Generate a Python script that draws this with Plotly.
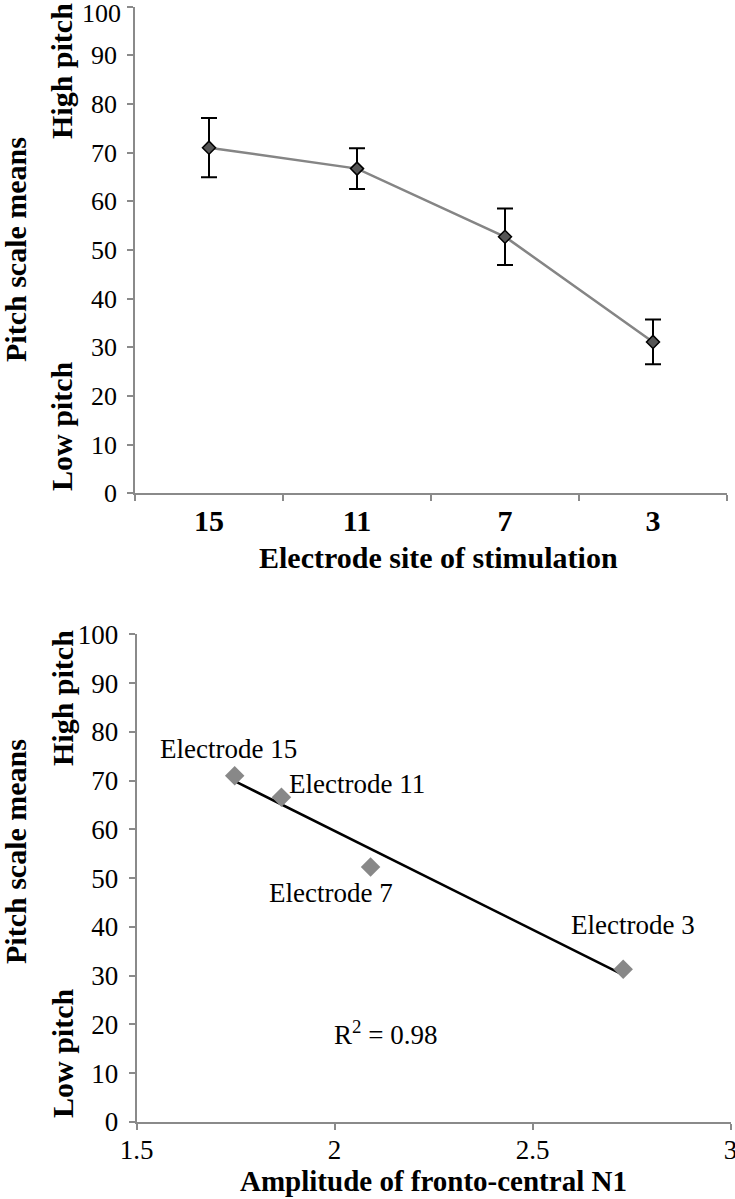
import numpy as np
import plotly.graph_objects as go

# ---- data: top panel ----
electrode_sites = ["15", "11", "7", "3"]
pitch_means = [71.0, 66.7, 52.7, 31.1]
pitch_err = [6.1, 4.2, 5.8, 4.6]

# ---- data: bottom panel ----
n1_amplitude = [1.748, 1.866, 2.091, 2.729]
pitch_means_b = [71.0, 66.6, 52.3, 31.3]
point_labels = ["Electrode 15", "Electrode 11", "Electrode 7", "Electrode 3"]
r2_text = "R<sup>2</sup> = 0.98"

y_ticks = [0, 10, 20, 30, 40, 50, 60, 70, 80, 90, 100]
x_ticks_b = [1.5, 2, 2.5, 3]

FONT = "Liberation Serif"
AXC = "#8a8a8a"

fig = go.Figure()

# top: line with error bars
fig.add_trace(go.Scatter(
    x=electrode_sites, y=pitch_means, mode="lines+markers",
    line=dict(color="#858585", width=2.5),
    marker=dict(symbol="diamond", size=10, color="#555555",
                line=dict(color="black", width=1.5)),
    error_y=dict(type="data", array=pitch_err, visible=True,
                 color="black", thickness=2, width=8),
    xaxis="x", yaxis="y", showlegend=False, cliponaxis=False))

# bottom: scatter + linear trend
slope, intercept = np.polyfit(n1_amplitude, pitch_means_b, 1)
xf = np.array([min(n1_amplitude), max(n1_amplitude)])
fig.add_trace(go.Scatter(
    x=xf, y=slope * xf + intercept, mode="lines",
    line=dict(color="black", width=2.5),
    xaxis="x2", yaxis="y2", showlegend=False))
fig.add_trace(go.Scatter(
    x=n1_amplitude, y=pitch_means_b, mode="markers",
    marker=dict(symbol="diamond", size=15, color="#888888"),
    xaxis="x2", yaxis="y2", showlegend=False, cliponaxis=False))

label_shifts = [(-6, 27), (76, 13), (-40, -26), (10, 44)]
annotations = []
for xv, yv, lab, (dx, dy) in zip(n1_amplitude, pitch_means_b, point_labels, label_shifts):
    annotations.append(dict(x=xv, y=yv, xref="x2", yref="y2", text=lab,
                            showarrow=False, xshift=dx, yshift=dy,
                            font=dict(family=FONT, size=27, color="black")))
annotations.append(dict(x=2.129, y=18.2, xref="x2", yref="y2", text=r2_text,
                        showarrow=False, font=dict(family=FONT, size=27, color="black")))

W, H = 735, 1199
def px(x):
    return x / W
def py(y):
    return 1 - y / H

# top panel: the topmost tick label sits just inside the figure edge
top_ticktext = [str(v) for v in y_ticks[:-1]] + [""]
annotations.append(dict(x=px(123), y=y_ticks[-1], xref="paper", yref="y",
                        text=str(y_ticks[-1]), showarrow=False, xanchor="right",
                        yanchor="middle", yshift=-7,
                        font=dict(family=FONT, size=26, color="black")))

bold = dict(family=FONT, size=30, color="black")
for (xx, yy, t) in [(15, 250, "Pitch scale means"), (62, 71, "High pitch"), (62, 426, "Low pitch"),
                    (15, 852, "Pitch scale means"), (62, 698, "High pitch"), (62, 1053, "Low pitch")]:
    annotations.append(dict(x=px(xx), y=py(yy), xref="paper", yref="paper",
                            text="<b>%s</b>" % t, textangle=-90, showarrow=False,
                            xanchor="center", yanchor="middle", font=bold))
annotations.append(dict(x=px(438), y=py(558), xref="paper", yref="paper",
                        text="<b>Electrode site of stimulation</b>", showarrow=False,
                        xanchor="center", yanchor="middle",
                        font=dict(family=FONT, size=30, color="black")))
annotations.append(dict(x=px(433), y=py(1181), xref="paper", yref="paper",
                        text="<b>Amplitude of fronto-central N1</b>", showarrow=False,
                        xanchor="center", yanchor="middle",
                        font=dict(family=FONT, size=29, color="black")))

common_axis = dict(showline=True, linecolor=AXC, linewidth=1.5, ticks="outside",
                   tickcolor=AXC, tickwidth=1.5, showgrid=False, zeroline=False,
                   automargin=False, ticklabeloverflow="allow")

fig.update_layout(
    width=W, height=H, margin=dict(l=0, r=0, t=0, b=0, autoexpand=False),
    paper_bgcolor="white", plot_bgcolor="white",
    xaxis=dict(domain=[135 / W, 727 / W], anchor="y", type="category",
               categoryorder="array", categoryarray=electrode_sites,
               range=[-0.5, 3.5], tickson="boundaries", ticklen=6,
               ticklabelstandoff=0,
               tickfont=dict(family=FONT, size=30, color="black", weight="bold"),
               **common_axis),
    yaxis=dict(domain=[1 - 493.3 / H, 1 - 6.5 / H], anchor="x", range=[0, 100],
               tickvals=y_ticks, ticktext=top_ticktext, ticklen=6, ticklabelstandoff=5,
               tickfont=dict(family=FONT, size=26, color="black"), **common_axis),
    xaxis2=dict(domain=[136.5 / W, 730.5 / W], anchor="y2", range=[1.5, 3],
                tickvals=x_ticks_b, ticklen=6, ticklabelstandoff=-3,
                tickfont=dict(family=FONT, size=27, color="black"), **common_axis),
    yaxis2=dict(domain=[1 - 1122 / H, 1 - 634.3 / H], anchor="x2", range=[0, 100],
                tickvals=y_ticks, ticklen=6, ticklabelstandoff=5,
                tickfont=dict(family=FONT, size=27, color="black"), **common_axis),
    annotations=annotations,
)

fig.write_html("out.html", config={"displayModeBar": False},
               post_script="document.body.style.margin='0';document.body.style.overflow='hidden';")
